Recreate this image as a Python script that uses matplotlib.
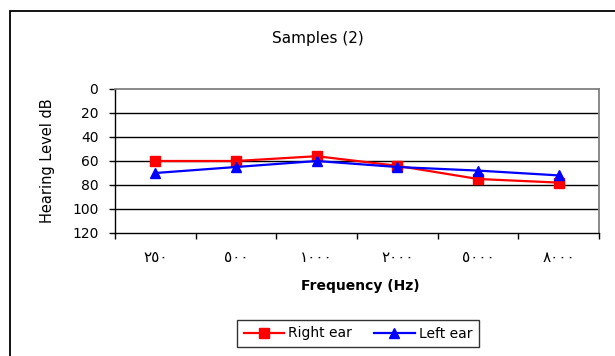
import matplotlib
matplotlib.use("Agg")
import matplotlib.pyplot as plt
from matplotlib.patches import Rectangle

plt.rcParams['font.family'] = ['DejaVu Sans', 'Noto Sans']

categories = ["٢٥٠", "٥٠٠", "١٠٠٠", "٢٠٠٠", "٥٠٠٠", "٨٠٠٠"]
right_ear = [60, 60, 56, 64, 75, 78]
left_ear = [70, 65, 60, 65, 68, 72]
y_ticks = [0, 20, 40, 60, 80, 100, 120]

W, H = 615, 356
fig = plt.figure(figsize=(W / 100, H / 100), dpi=100)
fig.patch.set_facecolor("white")

# outer chart frame (extends past the right and bottom edges)
frame = Rectangle((10 / W, -0.2), 1.2, (H - 11) / H + 0.2, transform=fig.transFigure,
                  fill=False, edgecolor="black", linewidth=1.3, clip_on=False)
fig.add_artist(frame)

ax = fig.add_axes([115 / W, (H - 233) / H, (599 - 115) / W, (233 - 89) / H])
x = list(range(len(categories)))

ax.plot(x, right_ear, color="#FF0000", marker="s", markersize=7.5, linewidth=1.6,
        label="Right ear", zorder=3)
ax.plot(x, left_ear, color="#0000FF", marker="^", markersize=7.5, linewidth=1.6,
        label="Left ear", zorder=4)

ax.set_xlim(-0.5, len(categories) - 0.5)
ax.set_ylim(120, 0)
ax.set_yticks(y_ticks)
ax.set_yticklabels([str(v) for v in y_ticks], fontsize=10)
for v in y_ticks[1:-1]:
    ax.axhline(v, color="black", linewidth=1.0, zorder=1)

ax.set_xticks([i - 0.5 for i in range(len(categories) + 1)])
ax.set_xticklabels([])
ax.set_xticks(x, minor=True)
ax.set_xticklabels(categories, minor=True, fontsize=11)
ax.tick_params(axis="x", which="major", direction="out", length=4, width=1)
ax.tick_params(axis="x", which="minor", length=0, pad=12)
ax.tick_params(axis="y", direction="out", length=4, width=1, pad=8)

for s in ["top", "right"]:
    ax.spines[s].set_color("#808080")
    ax.spines[s].set_linewidth(1.3)
for s in ["left", "bottom"]:
    ax.spines[s].set_color("black")
    ax.spines[s].set_linewidth(1.0)

ax.set_ylabel("Hearing Level dB", fontsize=10.5, labelpad=12)
fig.text(360 / W, 1 - 286 / H, "Frequency (Hz)", ha="center", va="center",
         fontsize=10, fontweight="bold")
fig.text(318 / W, 1 - 38 / H, "Samples (2)", ha="center", va="center", fontsize=11)

leg = fig.legend(loc="center", bbox_to_anchor=(358 / W, 1 - 333.5 / H), ncol=2,
                 fontsize=10, frameon=True, fancybox=False, handlelength=2.9,
                 columnspacing=1.6, borderpad=0.5, handletextpad=0.3)
leg.get_frame().set_edgecolor("black")
leg.get_frame().set_linewidth(1.0)

fig.savefig("out.png", dpi=100, facecolor="white")
